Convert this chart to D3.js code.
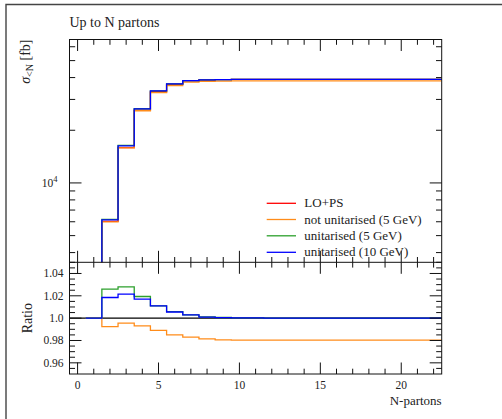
<!DOCTYPE html>
<html>
<head>
<meta charset="utf-8">
<script src="https://cdn.jsdelivr.net/npm/d3@7"></script>
<style>
    body { margin: 0; background: #fff; }
    text { font-family: "Liberation Serif", "DejaVu Serif", serif; fill: #222; }
</style>
</head>
<body>
<div id="chart"></div>
<script>
//  Define width and height
var chart_width     =   502;
var chart_height    =   419;

// Data: bins are N = 0 .. 22 (bin i spans i-0.5 .. i+0.5)
var n_partons       =   d3.range(0, 23);
var lo_ps           =   [0, 0, 6035, 15930, 26030, 33180, 36590, 38300, 38740, 38950,
                         39050, 39080, 39100, 39100, 39100, 39100, 39100, 39100, 39100, 39100,
                         39100, 39100, 39100];
var ratio_not_unit5 =   [null, 1.0, 0.9924, 0.9955, 0.993, 0.989, 0.985, 0.983, 0.9815, 0.9806,
                         0.9804, 0.9803, 0.9803, 0.9803, 0.9803, 0.9803, 0.9803, 0.9803, 0.9803, 0.9803,
                         0.9803, 0.9803, 0.9803];
var ratio_unit5     =   [null, 1.0, 1.026, 1.028, 1.0194, 1.011, 1.0058, 1.003, 1.0012, 1.0006,
                         1.0003, 1.0002, 1.0001, 1.0001, 1.0, 1.0, 1.0, 1.0, 1.0, 1.0,
                         1.0, 1.0, 1.0];
var ratio_unit10    =   [null, 1.0, 1.0185, 1.0215, 1.017, 1.011, 1.0055, 1.003, 1.001, 1.0005,
                         1.0003, 1.0002, 1.0001, 1.0001, 1.0, 1.0, 1.0, 1.0, 1.0, 1.0,
                         1.0, 1.0, 1.0];

var series_names    =   ["LO+PS", "not unitarised (5 GeV)", "unitarised (5 GeV)", "unitarised (10 GeV)"];
var series_colors   =   ["#ff0000", "#ff8c1a", "#2ca02c", "#0000ff"];
var series_ratios   =   [null, ratio_not_unit5, ratio_unit5, ratio_unit10];

var x_major_ticks   =   [0, 5, 10, 15, 20];
var ratio_major     =   [0.96, 0.98, 1.0, 1.02, 1.04];
var ratio_labels    =   ["0.96", "0.98", "1.0", "1.02", "1.04"];
var main_minor      =   [4000, 5000, 6000, 7000, 8000, 9000, 20000, 30000, 40000, 50000, 60000];


// Layout
var left            =   69.5;
var right           =   441.7;
var main_top        =   39.5;
var main_bottom     =   262.3;
var ratio_bottom    =   374;


// Scales
var x               =   d3.scaleLinear()
    .domain([ -0.5, 22.5 ])
    .range([ left, right ]);
var y_main          =   d3.scaleLog()
    .domain([ 3520, 66000 ])
    .range([ main_bottom, main_top ]);
var y_ratio         =   d3.scaleLinear()
    .domain([ 0.95, 1.05 ])
    .range([ ratio_bottom, main_bottom ]);


// Create SVG
var svg             =   d3.select("#chart")
    .append("svg")
    .attr("width", chart_width)
    .attr("height", chart_height);

svg.append("rect")
    .attr("width", chart_width)
    .attr("height", chart_height)
    .attr("fill", "#fff");

// page frame (only top and left edges are in view)
svg.append("path")
    .attr("d", "M6,419V4.5H502")
    .attr("fill", "none")
    .attr("stroke", "#444")
    .attr("stroke-width", 1.4);

// clip paths
var defs = svg.append("defs");
defs.append("clipPath").attr("id", "clip-main")
    .append("rect")
    .attr("x", left).attr("y", main_top)
    .attr("width", right - left).attr("height", main_bottom - main_top);
defs.append("clipPath").attr("id", "clip-ratio")
    .append("rect")
    .attr("x", left).attr("y", main_bottom)
    .attr("width", right - left).attr("height", ratio_bottom - main_bottom);


// Histogram step path builder
function step_path( values, yscale, floor ){
    var d = "";
    var started = false;
    values.forEach(function(v, i){
        if( v === null || v === undefined || v <= 0 ){
            return;
        }
        var x0 = x(i - 0.5), x1 = x(i + 0.5), yy = yscale(v);
        if( !started ){
            d += floor !== undefined ? "M" + x0 + "," + floor + "V" + yy : "M" + x0 + "," + yy;
            started = true;
        }else{
            d += "V" + yy;
        }
        d += "H" + x1;
    });
    return d;
}


// Main panel series
var main_g = svg.append("g").attr("clip-path", "url(#clip-main)");

series_names.forEach(function(name, s){
    var values = lo_ps.map(function(v, i){
        if( s === 0 ){ return v; }
        var r = series_ratios[s][i];
        return r === null ? 0 : v * r;
    });
    main_g.append("path")
        .attr("d", step_path(values, y_main, main_bottom + 5))
        .attr("fill", "none")
        .attr("stroke", series_colors[s])
        .attr("stroke-width", 1.3);
});


// Ratio panel
var ratio_g = svg.append("g").attr("clip-path", "url(#clip-ratio)");

ratio_g.append("line")
    .attr("x1", left).attr("x2", right)
    .attr("y1", y_ratio(1)).attr("y2", y_ratio(1))
    .attr("stroke", "#000")
    .attr("stroke-width", 1.2);

series_ratios.forEach(function(r, s){
    if( !r ){ return; }
    ratio_g.append("path")
        .attr("d", step_path(r, y_ratio))
        .attr("fill", "none")
        .attr("stroke", series_colors[s])
        .attr("stroke-width", 1.3);
});


// Axes and ticks
var axes = svg.append("g")
    .attr("stroke", "#111")
    .attr("stroke-width", 1);

var major_len = 11.5, minor_len = 5.3;

function x_ticks( y0, dir ){
    n_partons.forEach(function(n){
        var len = x_major_ticks.indexOf(n) >= 0 ? major_len : minor_len;
        axes.append("line")
            .attr("x1", x(n)).attr("x2", x(n))
            .attr("y1", y0).attr("y2", y0 + dir * len);
    });
}
x_ticks(main_top, 1);
x_ticks(main_bottom, -1);
x_ticks(main_bottom, 1);
x_ticks(ratio_bottom, -1);

function y_ticks( yscale, values, len ){
    values.forEach(function(v){
        var yy = yscale(v);
        axes.append("line")
            .attr("x1", left).attr("x2", left + len)
            .attr("y1", yy).attr("y2", yy);
        axes.append("line")
            .attr("x1", right).attr("x2", right - len)
            .attr("y1", yy).attr("y2", yy);
    });
}
y_ticks(y_main, [10000], 12);
y_ticks(y_main, main_minor, 5.7);
y_ticks(y_ratio, ratio_major, 12);
y_ticks(y_ratio, d3.range(0.955, 1.05, 0.005).filter(function(v){
    return ratio_major.every(function(m){ return Math.abs(m - v) > 1e-6; });
}), 5.5);

// frames
axes.append("rect")
    .attr("x", left).attr("y", main_top)
    .attr("width", right - left).attr("height", ratio_bottom - main_top)
    .attr("fill", "none");
axes.append("line")
    .attr("x1", left).attr("x2", right)
    .attr("y1", main_bottom).attr("y2", main_bottom);


// Tick labels
svg.append("g")
    .selectAll("text")
    .data(x_major_ticks)
    .enter().append("text")
    .attr("x", function(d){ return x(d); })
    .attr("y", 389)
    .attr("text-anchor", "middle")
    .attr("font-size", 11.5)
    .text(function(d){ return d; });

svg.append("g")
    .selectAll("text")
    .data(ratio_major)
    .enter().append("text")
    .attr("x", 63.5)
    .attr("y", function(d){ return y_ratio(d) + 4; })
    .attr("text-anchor", "end")
    .attr("font-size", 11.5)
    .text(function(d, i){ return ratio_labels[i]; });

var ten4 = svg.append("text")
    .attr("x", 57.5)
    .attr("y", y_main(10000) + 4)
    .attr("text-anchor", "end")
    .attr("font-size", 11.5);
ten4.append("tspan").text("10");
ten4.append("tspan").attr("dy", -5).attr("font-size", 8.5).text("4");


// Titles and axis labels
svg.append("text")
    .attr("x", left)
    .attr("y", 27.3)
    .attr("font-size", 14)
    .text("Up to N partons");

svg.append("text")
    .attr("x", right)
    .attr("y", 405)
    .attr("text-anchor", "end")
    .attr("font-size", 13)
    .text("N-partons");

var ylab = svg.append("text")
    .attr("transform", "translate(30," + main_top + ") rotate(-90)")
    .attr("text-anchor", "end")
    .attr("font-size", 14);
ylab.append("tspan").attr("font-style", "italic").text("σ");
ylab.append("tspan").attr("font-size", 10).attr("dy", 2.5).text("<N");
ylab.append("tspan").attr("dy", -2.5).text(" [fb]");

svg.append("text")
    .attr("transform", "translate(32," + y_ratio(1) + ") rotate(-90)")
    .attr("text-anchor", "middle")
    .attr("font-size", 14)
    .text("Ratio");


// Legend
var legend = svg.append("g")
    .attr("class", "legend");
var legend_y = [203.3, 219.5, 235.8, 252.3];

series_names.forEach(function(name, s){
    legend.append("line")
        .attr("x1", 266.7).attr("x2", 296)
        .attr("y1", legend_y[s]).attr("y2", legend_y[s])
        .attr("stroke", series_colors[s])
        .attr("stroke-width", 1.3);
    legend.append("text")
        .attr("x", 304.3)
        .attr("y", legend_y[s] + 4)
        .attr("font-size", 13)
        .text(name);
});
</script>
</body>
</html>
